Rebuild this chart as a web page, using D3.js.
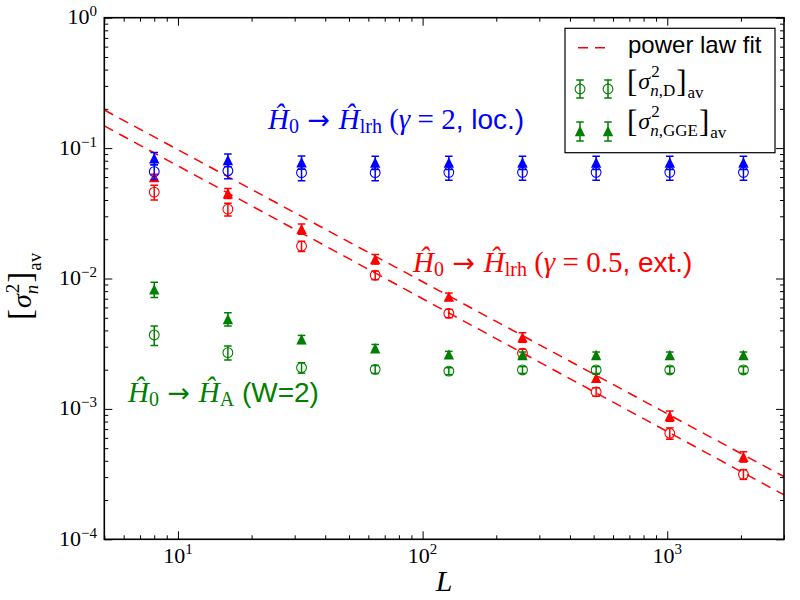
<!DOCTYPE html>
<html><head><meta charset="utf-8">
<script src="https://cdn.jsdelivr.net/npm/d3@7"></script>
<style>body{margin:0;background:#fff} svg{display:block} text{white-space:pre}</style>
</head><body>
<svg id="chart" width="800" height="600"></svg>
<script>
// ---------- data ----------
const L = [8, 16, 32, 64, 128, 256, 512, 1024, 2048];

const locGGE    = [0.0835, 0.081, 0.0778, 0.0775, 0.0775, 0.0775, 0.0775, 0.0775, 0.0775];
const locGGEErr = [0.009, 0.009, 0.009, 0.009, 0.009, 0.009, 0.009, 0.009, 0.009];
const locD      = [0.066, 0.067, 0.0648, 0.0648, 0.0652, 0.0652, 0.0652, 0.0652, 0.0652];
const locDErr   = [0.0085, 0.0088, 0.0085, 0.0085, 0.0085, 0.0085, 0.0085, 0.0085, 0.0085];

const extGGE    = [0.060, 0.045, 0.024, 0.0141, 0.00726, 0.00354, 0.00173, 0.000883, 0.00043];
const extGGEErr = [0.003, 0.004, 0.0022, 0.0012, 0.00047, 0.0003, 0.00012, 0.00008, 0.000039];
const extD      = [0.046, 0.034, 0.0177, 0.0106, 0.0054, 0.00267, 0.00135, 0.00065, 0.000315];
const extDErr   = [0.006, 0.0038, 0.0016, 0.0008, 0.0004, 0.0002, 0.0001, 0.000065, 0.000027];

const andGGE    = [0.00826, 0.00489, 0.00342, 0.00292, 0.00262, 0.00259, 0.00259, 0.00259, 0.00259];
const andGGEErr = [0.0011, 0.00056, 0.00024, 0.0002, 0.00014, 0.00014, 0.00014, 0.00014, 0.00014];
const andD      = [0.00369, 0.0027, 0.00207, 0.00201, 0.00195, 0.00199, 0.00199, 0.00199, 0.00199];
const andDErr   = [0.00063, 0.00033, 0.00019, 0.00014, 0.00012, 0.00012, 0.00012, 0.00012, 0.00012];

// power-law fit lines (endpoints on the log-log plot)
const fitL   = [5, 3000];
const fitGGE = [0.196, 3.02e-4];
const fitD   = [0.148, 2.19e-4];

const xTickValues = [10, 100, 1000];
const xTickExps   = ["1", "2", "3"];
const yTickValues = [1e-4, 1e-3, 1e-2, 1e-1, 1];
const yTickExps   = ["\u22124", "\u22123", "\u22122", "\u22121", "0"];

// ---------- setup ----------
const SERIF = "'Liberation Serif','DejaVu Serif',serif";
const SANS = "'Liberation Sans',Arial,sans-serif";
const ARROWF = "'DejaVu Sans',sans-serif";
const RED = "#ff0000", BLUE = "#0000ff", GREEN = "#008000";

const svg = d3.select("#chart");
const X0 = 104.3, X1 = 784, Y0 = 17.7, Y1 = 539.3;
const x = d3.scaleLog().domain([5, 3000]).range([X0, X1]);
const y = d3.scaleLog().domain([1e-4, 1]).range([Y1, Y0]);

svg.append("rect").attr("width", 800).attr("height", 600).attr("fill", "#fff");
svg.append("defs").append("clipPath").attr("id", "clip")
  .append("rect").attr("x", X0).attr("y", Y0).attr("width", X1 - X0).attr("height", Y1 - Y0);

function minorLog(domain) {
  const [a, b] = domain, out = [];
  for (let e = Math.floor(Math.log10(a)); e <= Math.ceil(Math.log10(b)); e++)
    for (let m = 2; m <= 9; m++) {
      const v = m * Math.pow(10, e);
      if (v >= a * 0.999 && v <= b * 1.001) out.push(v);
    }
  return out;
}

// ticks on all four sides, pointing inwards
[
  { gen: d3.axisBottom, s: x, t: `translate(0,${Y1})`, major: xTickValues },
  { gen: d3.axisTop, s: x, t: `translate(0,${Y0})`, major: xTickValues },
  { gen: d3.axisLeft, s: y, t: `translate(${X0},0)`, major: yTickValues },
  { gen: d3.axisRight, s: y, t: `translate(${X1},0)`, major: yTickValues }
].forEach(a => {
  svg.append("g").attr("transform", a.t)
    .call(a.gen(a.s).tickValues(a.major).tickSize(-8).tickSizeOuter(0).tickFormat(""));
  svg.append("g").attr("transform", a.t)
    .call(a.gen(a.s).tickValues(minorLog(a.s.domain())).tickSize(-4).tickSizeOuter(0).tickFormat(""));
});
svg.selectAll(".domain").remove();
svg.selectAll(".tick line").attr("stroke", "#000").attr("stroke-width", 1);

// tick labels
svg.append("g").selectAll("text").data(xTickValues).join("text")
  .attr("x", d => x(d)).attr("y", 563).attr("text-anchor", "middle")
  .attr("font-family", SERIF).attr("font-size", 22)
  .each(function (d, i) {
    const t = d3.select(this);
    t.append("tspan").text("10");
    t.append("tspan").attr("font-size", 15).attr("dy", -9).text(xTickExps[i]);
  });
svg.append("g").selectAll("text").data(yTickValues).join("text")
  .attr("x", 97).attr("y", d => y(d) + 6.5).attr("text-anchor", "end")
  .attr("font-family", SERIF).attr("font-size", 22)
  .each(function (d, i) {
    const t = d3.select(this);
    t.append("tspan").text("10");
    t.append("tspan").attr("font-size", 15).attr("dy", -8).text(yTickExps[i]);
  });

// ---------- fits ----------
const plot = svg.append("g").attr("clip-path", "url(#clip)");
const line = d3.line().x(d => x(d[0])).y(d => y(d[1]));
[fitGGE, fitD].forEach(f => {
  plot.append("path").datum(fitL.map((l, i) => [l, f[i]]))
    .attr("d", line).attr("fill", "none").attr("stroke", RED)
    .attr("stroke-width", 1.5).attr("stroke-dasharray", "10,7");
});

// ---------- series ----------
const TRI = "M0,-5.2L5.2,5.2L-5.2,5.2Z";
function drawMarker(g, kind, color) {
  if (kind === "tri") g.append("path").attr("d", TRI).attr("fill", color);
  else g.append("circle").attr("r", 4.9).attr("fill", "none").attr("stroke", color).attr("stroke-width", 1.1);
}
function drawErr(g, cx, yt, yb, color) {
  g.append("line").attr("x1", cx).attr("x2", cx).attr("y1", yt).attr("y2", yb)
    .attr("stroke", color).attr("stroke-width", 1.5);
  [yt, yb].forEach(yy => g.append("line").attr("x1", cx - 3.8).attr("x2", cx + 3.8)
    .attr("y1", yy).attr("y2", yy).attr("stroke", color).attr("stroke-width", 1.5));
}
const series = [
  { v: extD, e: extDErr, c: RED, k: "circ" },
  { v: extGGE, e: extGGEErr, c: RED, k: "tri" },
  { v: andD, e: andDErr, c: GREEN, k: "circ" },
  { v: andGGE, e: andGGEErr, c: GREEN, k: "tri" },
  { v: locD, e: locDErr, c: BLUE, k: "circ" },
  { v: locGGE, e: locGGEErr, c: BLUE, k: "tri" }
];
series.forEach(s => {
  const g = plot.append("g");
  L.forEach((l, i) => {
    const cx = x(l);
    drawErr(g, cx, y(s.v[i] + s.e[i]), y(s.v[i] - s.e[i]), s.c);
    drawMarker(g.append("g").attr("transform", `translate(${cx},${y(s.v[i])})`), s.k, s.c);
  });
});

// frame
svg.append("rect").attr("x", X0).attr("y", Y0).attr("width", X1 - X0).attr("height", Y1 - Y0)
  .attr("fill", "none").attr("stroke", "#000").attr("stroke-width", 1.6);

// ---------- annotations ----------
function richText(parent, x0, y0, color, pieces) {
  const t = parent.append("text").attr("x", x0).attr("y", y0).attr("fill", color);
  let prev = 0;
  pieces.forEach(p => {
    const sh = p.shift || 0;
    t.append("tspan").attr("dy", sh - prev)
      .attr("font-family", p.fam || (p.sans ? SANS : SERIF))
      .attr("font-style", p.it ? "italic" : "normal")
      .attr("font-size", p.size || 29).text(p.t);
    prev = sh;
  });
  return t;
}
const lrh = (gam, kind) => [
  { t: "\u0124", it: 1 }, { t: "0", size: 20, shift: 4 }, { t: " \u2192 ", fam: ARROWF, size: 27 },
  { t: "\u0124", it: 1 }, { t: "lrh", size: 20, shift: 4 }, { t: " (" },
  { t: "\u03b3", it: 1 }, { t: " = " + gam }, { t: ", " + kind + ")", sans: 1, size: 28 }
];
richText(svg, 268, 129, BLUE, lrh("2", "loc."));
richText(svg, 413, 271.5, RED, lrh("0.5", "ext."));
richText(svg, 128, 401.5, GREEN, [
  { t: "\u0124", it: 1 }, { t: "0", size: 20, shift: 4 }, { t: " \u2192 ", fam: ARROWF, size: 27 },
  { t: "\u0124", it: 1 }, { t: "A", size: 20, shift: 4 }, { t: " (W=2)", sans: 1, size: 28 }
]);

// ---------- axis labels ----------
svg.append("text").attr("x", (X0 + X1) / 2).attr("y", 591).attr("text-anchor", "middle")
  .attr("font-family", SERIF).attr("font-style", "italic").attr("font-size", 30).text("L");

// sigma-bracket builder: returns end x
function sigmaBlock(g, x0, base, sub, opt) {
  const big = opt.big, main = opt.main, small = opt.small;
  const put = (txt, xx, yy, size, it) => {
    const t = g.append("text").attr("x", xx).attr("y", yy).attr("font-family", SERIF)
      .attr("font-size", size).attr("font-style", it ? "italic" : "normal").attr("fill", "#000").text(txt);
    return xx + t.node().getComputedTextLength();
  };
  let cx = put("[", x0, base + opt.brDy, big);
  cx = put("\u03c3", cx + 1, base, main, 1);
  const e1 = put("2", cx + 1, base - opt.supUp, small);
  const subT = g.append("text").attr("x", cx).attr("y", base + opt.subDn)
    .attr("font-family", SERIF).attr("font-size", small).attr("fill", "#000");
  sub.forEach(p => subT.append("tspan").attr("font-style", p.it ? "italic" : "normal").text(p.t));
  const e2 = cx + subT.node().getComputedTextLength();
  cx = Math.max(e1, e2) + 1;
  cx = put("]", cx, base + opt.brDy, big);
  return put("av", cx + 1, base + opt.avDn, small);
}

// y label (rotated)
const yl = svg.append("g").attr("transform", "translate(31,320) rotate(-90)");
sigmaBlock(yl, 0, 0, [{ t: "n", it: 1 }], { big: 33, main: 28, small: 19, brDy: 0, supUp: 12, subDn: 7, avDn: 10 });

// ---------- legend ----------
const lg = svg.append("g");
lg.append("rect").attr("x", 565).attr("y", 28.3).attr("width", 210).attr("height", 124.4)
  .attr("fill", "#fff").attr("stroke", "#000").attr("stroke-width", 1.2);
lg.append("line").attr("x1", 578).attr("x2", 605).attr("y1", 47.7).attr("y2", 47.7)
  .attr("stroke", RED).attr("stroke-width", 1.5).attr("stroke-dasharray", "10,7");
lg.append("text").attr("x", 628).attr("y", 53).attr("font-family", SANS).attr("font-size", 24).text("power law fit");
[580, 608].forEach(mx => {
  drawErr(lg, mx, 80, 98, GREEN);
  drawMarker(lg.append("g").attr("transform", `translate(${mx},89)`), "circ", GREEN);
  drawErr(lg, mx, 122, 141, GREEN);
  drawMarker(lg.append("g").attr("transform", `translate(${mx},131)`), "tri", GREEN);
});
const lgOpt = { big: 31, main: 24, small: 17, brDy: 3, supUp: 12, subDn: 7, avDn: 9 };
sigmaBlock(lg, 627, 88.5, [{ t: "n", it: 1 }, { t: ",D" }], lgOpt);
sigmaBlock(lg, 627, 128.5, [{ t: "n", it: 1 }, { t: ",GGE" }], lgOpt);
</script>
</body></html>
